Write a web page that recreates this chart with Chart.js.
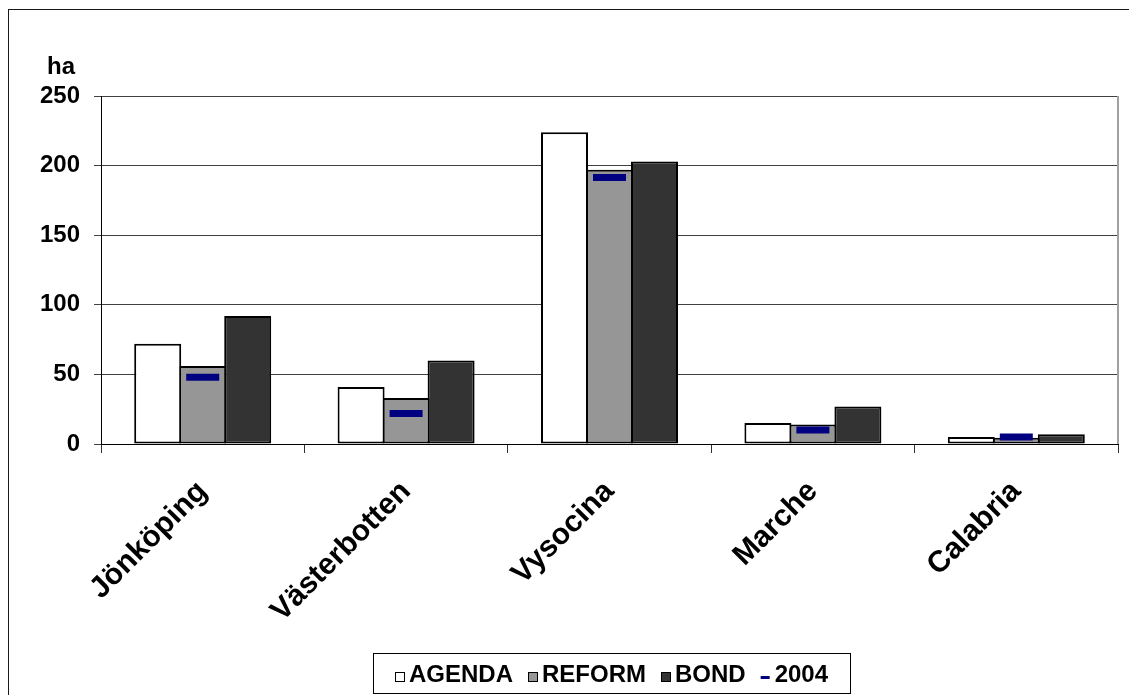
<!DOCTYPE html>
<html>
<head>
<meta charset="utf-8">
<script src="https://cdn.jsdelivr.net/npm/chart.js@4/dist/chart.umd.min.js"></script>
<style>
  html, body { margin: 0; padding: 0; background: #fff; overflow: hidden; }
  #frame { position: absolute; left: 8px; top: 9px; width: 1200px; height: 800px;
           border-top: 1px solid #1a1a1a; border-left: 1px solid #1a1a1a; }
  #c { position: absolute; left: 0; top: 0; }
</style>
</head>
<body>
<div id="frame"></div>
<canvas id="c" width="1129" height="695"></canvas>
<script>
// Cultivated area per region (ha) under three scenarios, plus the 2004 level
const regions    = ['Jönköping', 'Västerbotten', 'Vysocina', 'Marche', 'Calabria'];
const agenda     = [72, 41, 224, 15, 5];
const reform     = [56, 33, 197, 14, 4.5];
const bond       = [92, 60, 203, 27, 7];
const level2004  = [48, 22, 191.5, 10, 5];
const yTicks     = [0, 50, 100, 150, 200, 250];
const unitLabel  = 'ha';

const FONT = '"Liberation Sans", Arial, Helvetica, sans-serif';

// Unit label sits a little to the right of the axis block
const unitOffset = {
  id: 'unitOffset',
  afterLayout(chart, args, opts) {
    const t = chart.titleBlock;
    if (t) { t.left += opts.dx; t.right += opts.dx; }
  }
};

// Thin grey edge on the right side of the plot area
const plotEdge = {
  id: 'plotEdge',
  afterDraw(chart) {
    const { ctx, chartArea: a } = chart;
    ctx.save();
    ctx.strokeStyle = '#a0a0a0';
    ctx.lineWidth = 2;
    ctx.beginPath();
    ctx.moveTo(a.right, a.top);
    ctx.lineTo(a.right, a.bottom);
    ctx.stroke();
    ctx.restore();
  }
};

// Framed legend row under the axis, built from the datasets
const boxedLegend = {
  id: 'boxedLegend',
  afterDraw(chart, args, opts) {
    const ctx = chart.ctx;
    ctx.save();
    ctx.font = 'bold 24px ' + FONT;
    const items = chart.data.datasets.map(ds => ({
      text: ds.label,
      dash: ds.type === 'line',
      fill: ds.backgroundColor,
      color: ds.borderColor
    }));
    const markW = 10, gap = 4, itemGap = 15, padX = 22;
    const widths = items.map(it => markW + gap + ctx.measureText(it.text).width);
    const inner = widths.reduce((s, w) => s + w, 0) + itemGap * (items.length - 1);
    const total = inner + 2 * padX;
    const left = Math.round(opts.centerX - total / 2);
    ctx.strokeStyle = '#000';
    ctx.lineWidth = 1;
    ctx.strokeRect(left + 0.5, opts.top + 0.5, Math.round(total), opts.bottom - opts.top);
    let x = left + padX;
    items.forEach((it, i) => {
      if (it.dash) {
        ctx.fillStyle = it.color;
        ctx.fillRect(x, opts.baseline - 6, 9, 3);
      } else {
        ctx.fillStyle = it.fill;
        ctx.fillRect(x, opts.baseline - 10, markW, markW);
        ctx.strokeStyle = '#000';
        ctx.strokeRect(x + 0.5, opts.baseline - 10 + 0.5, markW - 1, markW - 1);
      }
      ctx.fillStyle = '#000';
      ctx.textBaseline = 'alphabetic';
      ctx.textAlign = 'left';
      ctx.fillText(it.text, x + markW + gap, opts.baseline);
      x += widths[i] + itemGap;
    });
    ctx.restore();
  }
};

const barStyle = {
  borderColor: '#000',
  borderWidth: 2,
  borderSkipped: false,
  categoryPercentage: 0.6637,
  barPercentage: 1.0444
};

new Chart(document.getElementById('c'), {
  type: 'bar',
  data: {
    labels: regions,
    datasets: [
      { label: 'AGENDA', data: agenda, backgroundColor: '#ffffff', ...barStyle },
      { label: 'REFORM', data: reform, backgroundColor: '#969696', ...barStyle },
      { label: 'BOND',   data: bond,   backgroundColor: '#333333', ...barStyle },
      {
        label: '2004', data: level2004, type: 'line', order: -1,
        showLine: false,
        borderColor: '#000080', backgroundColor: '#000080',
        pointStyle: 'line', pointRadius: 16.5, pointHoverRadius: 16.5,
        pointBorderWidth: 7, pointBorderColor: '#000080'
      }
    ]
  },
  options: {
    responsive: false,
    animation: false,
    devicePixelRatio: 1,
    layout: { autoPadding: false, padding: { left: 30, right: 11, top: 0, bottom: 0 } },
    plugins: {
      legend: { display: false },
      tooltip: { enabled: false },
      title: {
        display: true, text: unitLabel, align: 'start', color: '#000',
        font: { family: FONT, size: 24, weight: 'bold', lineHeight: 1.2 },
        padding: { top: 53, bottom: 14.2 }
      },
      unitOffset: { dx: 17 },
      boxedLegend: { centerX: 612, top: 653, bottom: 693, baseline: 682 }
    },
    scales: {
      x: {
        offset: true,
        grid: { display: true, offset: true, drawOnChartArea: false, drawTicks: true,
                tickLength: 9, color: '#333', lineWidth: 1 },
        border: { display: true, color: '#000', width: 1 },
        ticks: {
          autoSkip: false, minRotation: 45, maxRotation: 45, padding: 21,
          color: '#000', font: { family: FONT, size: 30, weight: 'bold' }
        },
        afterFit(s) { s.height = 251; s.paddingLeft = 0; s.paddingRight = 0; }
      },
      y: {
        min: 0, max: 250,
        afterBuildTicks(s) { s.ticks = yTicks.map(v => ({ value: v })); },
        grid: { color: '#404040', lineWidth: 1, drawTicks: true, tickLength: 7 },
        border: { display: true, color: '#000', width: 1 },
        ticks: { padding: 14, color: '#000', font: { family: FONT, size: 24, weight: 'bold' } },
        afterFit(s) { s.width = 71; }
      }
    }
  },
  plugins: [unitOffset, plotEdge, boxedLegend]
});
</script>
</body>
</html>
